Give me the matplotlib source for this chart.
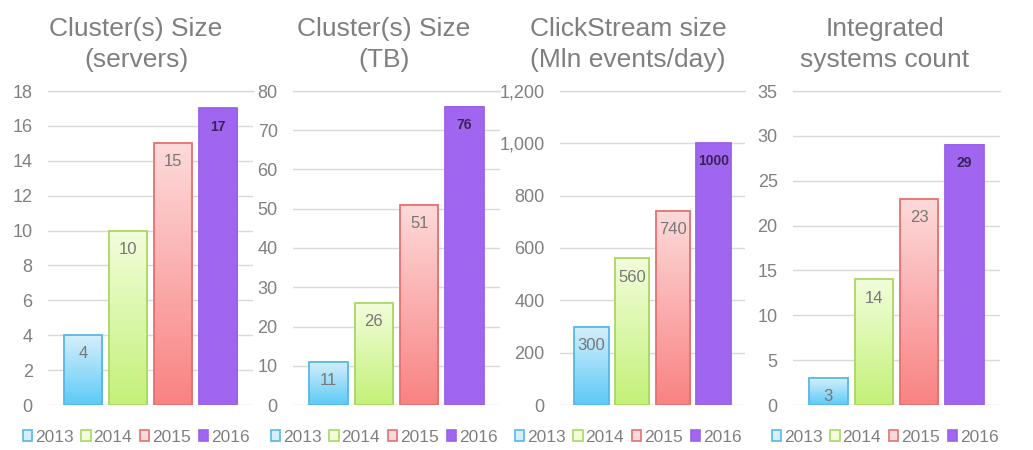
import matplotlib
matplotlib.use("Agg")
import matplotlib.pyplot as plt
import numpy as np
from matplotlib.patches import Patch
from matplotlib.ticker import FuncFormatter, MultipleLocator
from matplotlib.colors import to_rgb

plt.rcParams['font.family'] = ['Liberation Sans', 'DejaVu Sans']

years = ["2013", "2014", "2015", "2016"]
titles = [
    ["Cluster(s) Size", "(servers)"],
    ["Cluster(s) Size", "(TB)"],
    ["ClickStream size", "(Mln events/day)"],
    ["Integrated", "systems count"],
]
servers = [4, 10, 15, 17]
terabytes = [11, 26, 51, 76]
clickstream = [300, 560, 740, 1000]
systems = [3, 14, 23, 29]
series = [servers, terabytes, clickstream, systems]
y_max = [18, 80, 1200, 35]
y_step = [2, 10, 200, 5]

# gradient colours (top, bottom) and edge colours per year
grad_top = ["#d6effc", "#f3fddb", "#fddada", "#a066f0"]
grad_bot = ["#5ccaf6", "#c3f178", "#f98282", "#a066f0"]
edges = ["#55b8e8", "#a8d862", "#e67070", "#9a62ea"]
label_colors = ["#777777", "#777777", "#777777", "#3a2358"]
label_sizes = [12, 12, 12, 10]

W, H = 1033, 450
fig = plt.figure(figsize=(W / 100, H / 100), dpi=100)

# axes pixel extents (left, right)
ax_px = [(48, 253), (293, 500), (560, 745), (793, 1000)]
top_px, bot_px = 91, 405
centers_px = [136, 384, 628, 885]

gray = "#808080"
grid_c = "#d9d9d9"

for i in range(4):
    l, r = ax_px[i]
    ax = fig.add_axes([l / W, 1 - bot_px / H, (r - l) / W, (bot_px - top_px) / H])
    vals = series[i]
    x = np.arange(len(years))
    bars = ax.bar(x, vals, width=0.85, facecolor="none", edgecolor="none", zorder=3)
    for j, b in enumerate(bars):
        x0, w, h = b.get_x(), b.get_width(), b.get_height()
        c0 = np.array(to_rgb(grad_bot[j]))
        c1 = np.array(to_rgb(grad_top[j]))
        t = np.linspace(0, 1, 100)[:, None]
        img = (c0 * (1 - t) + c1 * t)[:, None, :]
        ax.imshow(img, extent=[x0, x0 + w, 0, h], origin="lower", aspect="auto", zorder=2,
                  interpolation="bilinear")
        ax.add_patch(plt.Rectangle((x0, 0), w, h, facecolor="none",
                                   edgecolor=edges[j], linewidth=1.3, zorder=3))
        ax.annotate(f"{vals[j]}", (x0 + w / 2, h), xytext=(0, -8), textcoords="offset points",
                    ha="center", va="top", fontsize=label_sizes[j], color=label_colors[j],
                    fontweight="bold" if j == 3 else "normal", zorder=4)
    ax.set_xlim(-0.78, 3.78)
    ax.set_ylim(0, y_max[i])
    ax.yaxis.set_major_locator(MultipleLocator(y_step[i]))
    ax.yaxis.set_major_formatter(FuncFormatter(lambda v, p: f"{v:,.0f}"))
    ax.grid(axis="y", color=grid_c, linewidth=1, zorder=0)
    ax.set_axisbelow(True)
    for s in ax.spines.values():
        s.set_visible(False)
    ax.set_xticks([])
    ax.tick_params(axis="y", length=0, labelsize=13, labelcolor=gray, pad=11)
    ax.axhline(y_max[i], color=grid_c, linewidth=1, zorder=0, clip_on=False)

    # titles
    cx = centers_px[i] / W
    fig.text(cx, 1 - 36 / H, titles[i][0], ha="center", va="baseline", fontsize=19, color="#7f7f7f")
    fig.text(cx, 1 - 67 / H, titles[i][1], ha="center", va="baseline", fontsize=19, color="#7f7f7f")

    # legend
    handles = [Patch(facecolor=(grad_top[j] if j < 3 else grad_bot[j]), edgecolor=edges[j],
                     linewidth=1.2, label=years[j]) for j in range(4)]
    fig.legend(handles=handles, loc="center", bbox_to_anchor=(cx, 1 - 437 / H), ncol=4,
               frameon=False, fontsize=12.5, labelcolor=gray, handlelength=0.55, handleheight=0.55,
               handletextpad=0.15, columnspacing=0.45, borderpad=0)

fig.savefig("out.png", dpi=100, facecolor="white")
